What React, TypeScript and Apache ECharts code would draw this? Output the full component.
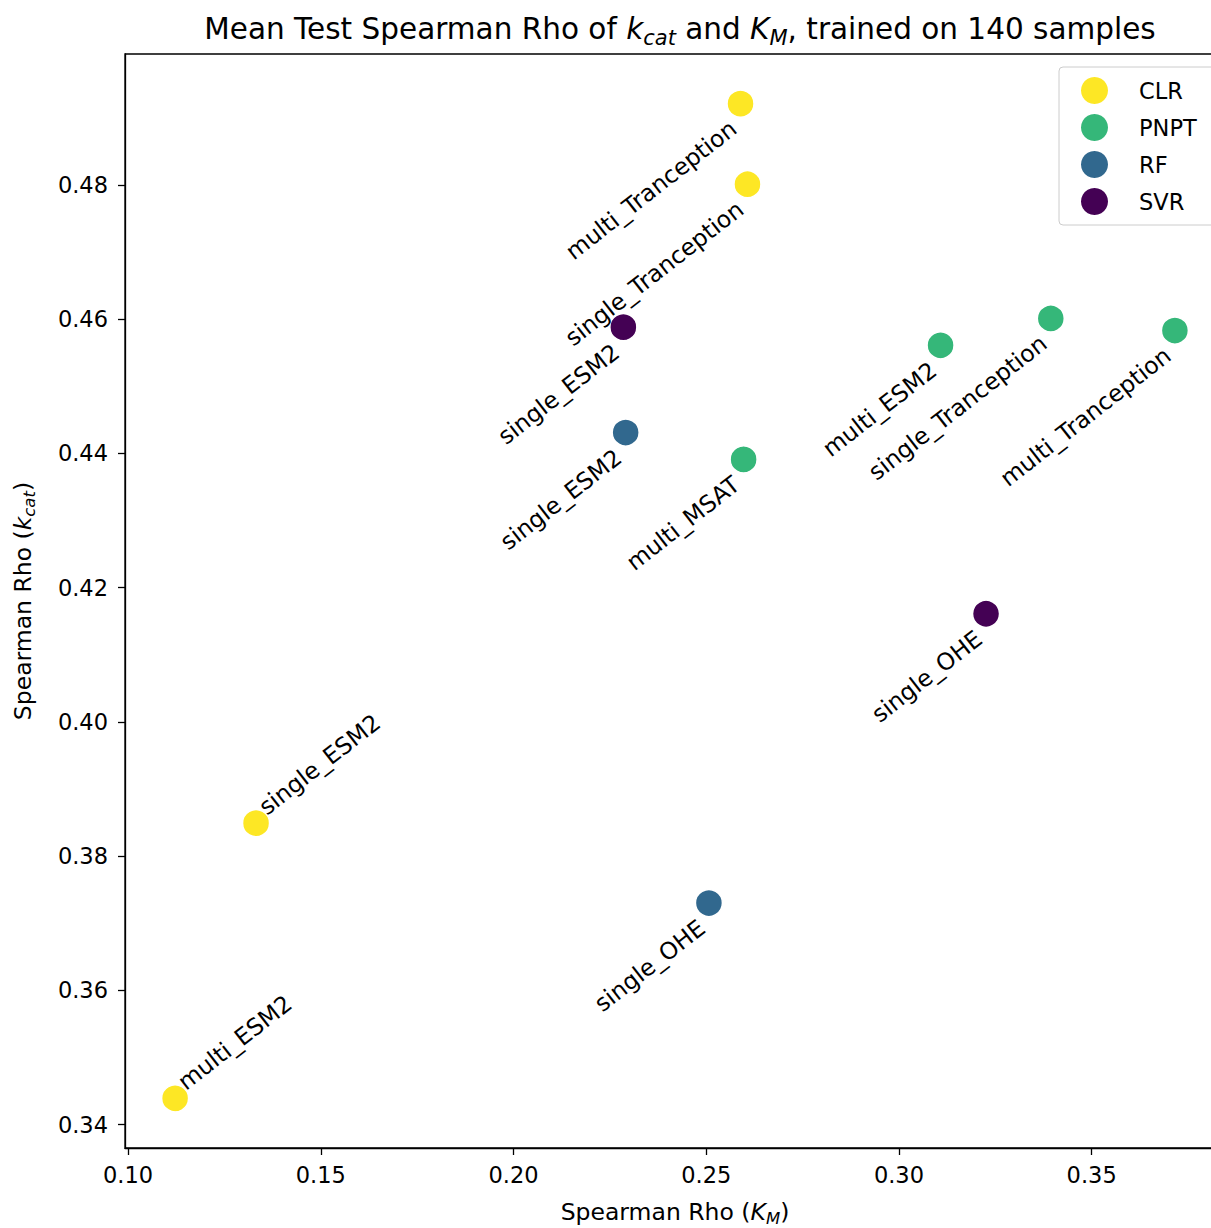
import React, { useEffect, useRef } from "react";
import * as echarts from "echarts";

// ---- data ----
const models = ["CLR", "PNPT", "RF", "SVR"];
const modelColors = ["#fde725", "#35b779", "#31688e", "#440154"];

const clrLabels = ["multi_Tranception", "single_Tranception", "single_ESM2", "multi_ESM2"];
const clrKm = [0.2589, 0.2607, 0.1332, 0.1122];
const clrKcat = [0.4921, 0.4801, 0.3849, 0.3439];

const pnptLabels = ["multi_MSAT", "multi_ESM2", "single_Tranception", "multi_Tranception"];
const pnptKm = [0.2597, 0.3108, 0.3394, 0.3716];
const pnptKcat = [0.4391, 0.4561, 0.4601, 0.4583];

const rfLabels = ["single_ESM2", "single_OHE"];
const rfKm = [0.2291, 0.2507];
const rfKcat = [0.4431, 0.373];

const svrLabels = ["single_ESM2", "single_OHE"];
const svrKm = [0.2285, 0.3226];
const svrKcat = [0.4588, 0.4161];

const xTicks = [0.1, 0.15, 0.2, 0.25, 0.3, 0.35];
const yTicks = [0.34, 0.36, 0.38, 0.4, 0.42, 0.44, 0.46, 0.48];

const seriesData = [
  { labels: clrLabels, x: clrKm, y: clrKcat },
  { labels: pnptLabels, x: pnptKm, y: pnptKcat },
  { labels: rfLabels, x: rfKm, y: rfKcat },
  { labels: svrLabels, x: svrKm, y: svrKcat },
];

const FONT = "DejaVu Sans";

export default function App() {
  const ref = useRef<HTMLDivElement>(null);
  useEffect(() => {
    if (!ref.current) return;
    const chart = echarts.init(ref.current, null, { renderer: "svg" });

    const rightLabel = {
      show: true,
      position: "inside",
      rotate: 38,
      align: "right",
      verticalAlign: "top",
      offset: [-19, 1],
      color: "#000",
      fontSize: 23.5,
      fontFamily: FONT,
      formatter: (p: any) => p.name,
    };
    const leftLabel = {
      ...rightLabel,
      align: "left",
      verticalAlign: "bottom",
      offset: [13, 5],
    };

    const series = models.map((m, i) => ({
      name: m,
      type: "scatter",
      symbolSize: 27,
      itemStyle: { color: modelColors[i], borderColor: "#fff", borderWidth: 1.5, opacity: 1 },
      data: seriesData[i].x.map((x, j) => ({
        name: seriesData[i].labels[j],
        value: [x, seriesData[i].y[j]],
        label: x < 0.15 ? leftLabel : rightLabel,
      })),
      emphasis: { disabled: true },
    }));

    const sub = (size: number, pad: number) => ({
      fontSize: size,
      fontStyle: "italic",
      fontFamily: FONT,
      color: "#000",
      padding: [pad, 0, 0, 0],
    });

    const nameRich = {
      a: { fontSize: 23.5, fontFamily: FONT, color: "#000" },
      i: { fontSize: 23.5, fontFamily: FONT, fontStyle: "italic", color: "#000" },
      s: sub(16.5, 13),
    };

    chart.setOption({
      animation: false,
      backgroundColor: "#fff",
      title: {
        text: "{a|Mean Test Spearman Rho of }{i|k}{s|cat}{a| and }{i|K}{s|M}{a|, trained on 140 samples}",
        left: 675,
        textAlign: "center",
        top: 5,
        textStyle: {
          fontWeight: "normal",
          rich: {
            a: { fontSize: 29.5, fontFamily: FONT, color: "#000", fontWeight: "normal" },
            i: { fontSize: 29.5, fontFamily: FONT, fontStyle: "italic", color: "#000", fontWeight: "normal" },
            s: { ...sub(21, 17), fontWeight: "normal" },
          },
        },
      },
      legend: {
        orient: "vertical",
        left: 1059,
        top: 67,
        padding: [10, 24, 10, 22],
        itemWidth: 27,
        itemHeight: 27,
        itemGap: 10,
        icon: "circle",
        backgroundColor: "#fff",
        borderColor: "#cccccc",
        borderWidth: 1,
        borderRadius: 4,
        data: models,
        textStyle: { fontSize: 22.5, fontFamily: FONT, color: "#000", padding: [0, 0, 0, 26] },
        itemStyle: { borderWidth: 0 },
      },
      grid: {
        left: 125,
        top: 54,
        width: 1100,
        height: 1094,
        outerBoundsMode: "none",
        containLabel: false,
        show: true,
        borderColor: "#000",
        borderWidth: 1.3,
        backgroundColor: "transparent",
      },
      xAxis: {
        type: "value",
        min: 0.0992,
        max: 0.3846,
        name: "{a|Spearman Rho (}{i|K}{s|M}{a|)}",
        nameLocation: "middle",
        nameGap: 49,
        nameTextStyle: { rich: nameRich },
        axisLine: { show: true, onZero: false, lineStyle: { color: "#000", width: 1.3 } },
        axisTick: { show: true, length: 7, customValues: xTicks, lineStyle: { color: "#000", width: 1.3 } },
        axisLabel: {
          customValues: xTicks,
          formatter: (v: number) => v.toFixed(2),
          fontSize: 22.5,
          fontFamily: FONT,
          color: "#000",
          margin: 15,
        },
        splitLine: { show: false },
      },
      yAxis: {
        type: "value",
        min: 0.3365,
        max: 0.4995,
        name: "{a|Spearman Rho (}{i|k}{s|cat}{a|)}",
        nameLocation: "middle",
        nameRotate: 90,
        nameGap: 87,
        nameTextStyle: { rich: nameRich },
        axisLine: { show: true, onZero: false, lineStyle: { color: "#000", width: 1.3 } },
        axisTick: { show: true, length: 7, customValues: yTicks, lineStyle: { color: "#000", width: 1.3 } },
        axisLabel: {
          customValues: yTicks,
          formatter: (v: number) => v.toFixed(2),
          fontSize: 22.5,
          fontFamily: FONT,
          color: "#000",
          margin: 17,
        },
        splitLine: { show: false },
      },
      series,
    });
    return () => chart.dispose();
  }, []);
  return (
    <div
      ref={ref}
      style={{ position: "absolute", left: 0, top: 0, width: 1211, height: 1228, background: "#fff" }}
    />
  );
}
